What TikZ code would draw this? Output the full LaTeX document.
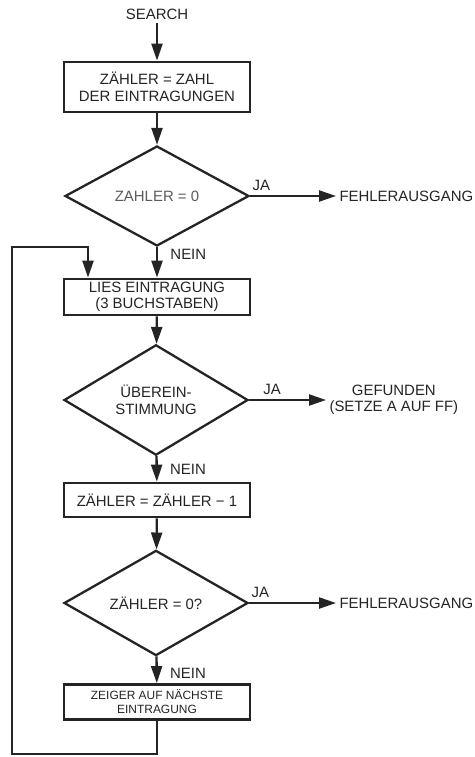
\documentclass[tikz,border=0pt]{standalone}
\usepackage{fontspec}
\setmainfont{Liberation Sans}
\usetikzlibrary{arrows.meta,shapes.geometric}
\definecolor{ink}{gray}{0.14}
\begin{document}
\begin{tikzpicture}[x=1bp,y=-1bp,
  every node/.style={text=ink,font=\fontsize{15}{16.5}\selectfont},
  stepbox/.style={draw=ink,line width=2.8bp,minimum width=186bp,inner sep=2bp,align=center},
  test/.style={draw=ink,line width=2.3bp,shape=diamond,minimum width=184bp,minimum height=100bp,inner sep=0pt,align=center},
  flow/.style={draw=ink,line width=2.3bp,-{Triangle[length=17bp,width=11bp]}},
  small/.style={font=\fontsize{12}{14}\selectfont}]
\useasboundingbox (0,0) rectangle (475,757);
\node (search) at (157,14) {SEARCH};
\node[stepbox,minimum height=50bp] (init) at (157,87) {ZÄHLER = ZAHL\\DER EINTRAGUNGEN};
\node[test,text=ink!75] (zero) at (157,196) {ZAHLER = 0};
\node[anchor=west] (err1) at (336,196) {FEHLERAUSGANG};
\node[stepbox,minimum height=36bp] (read) at (157,297) {LIES EINTRAGUNG\\(3 BUCHSTABEN)};
\node[test] (match) at (156,400) {ÜBEREIN-\\STIMMUNG};
\node[anchor=west,align=center] (found) at (326,400) {GEFUNDEN\\(SETZE A AUF FF)};
\node[stepbox,minimum height=34bp] (dec) at (157,500) {ZÄHLER = ZÄHLER − 1};
\node[test] (last) at (156,603) {ZÄHLER = 0?};
\node[anchor=west] (err2) at (336,603) {FEHLERAUSGANG};
\node[stepbox,small,minimum height=35bp] (next) at (157,702) {ZEIGER AUF NÄCHSTE\\EINTRAGUNG};
\coordinate (bot) at (12,754);
\coordinate (top) at (88,247);
\draw[flow] (search) -- (init);
\draw[flow] (init) -- (zero);
\draw[flow] (zero.east) -- (err1.west) node[pos=0.13,above=1bp] {JA};
\draw[flow] (zero) -- (read) node[pos=0.25,right=9bp] {NEIN};
\draw[flow] (read) -- (match);
\draw[flow] (match.east) -- (found.west) node[pos=0.3,above=1bp] {JA};
\draw[flow] (match) -- (dec) node[pos=0.53,right=9bp] {NEIN};
\draw[flow] (dec) -- (last);
\draw[flow] (last.east) -- (err2.west) node[pos=0.13,above=1bp] {JA};
\draw[flow] (last) -- (next) node[pos=0.62,right=9bp] {NEIN};
\draw[flow] (next.south) |- (bot) |- (top) -- (top |- read.north);
\end{tikzpicture}
\end{document}
